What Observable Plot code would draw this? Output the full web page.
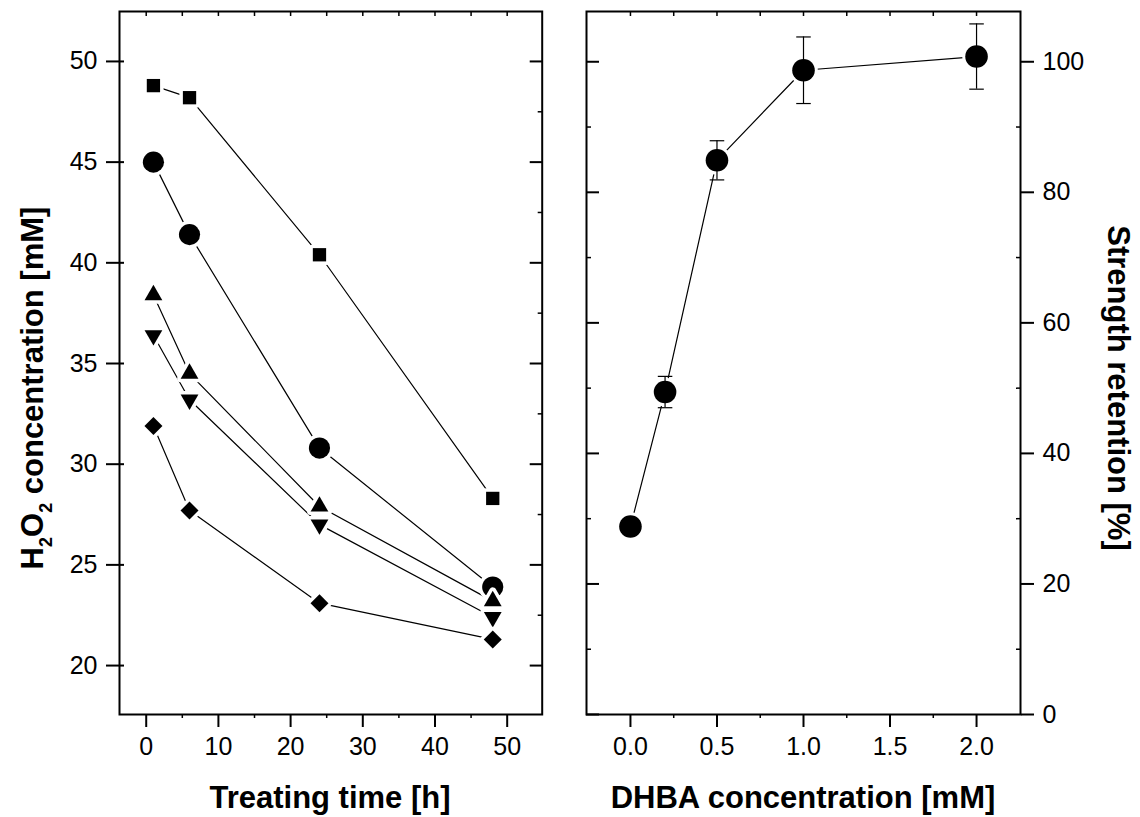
<!DOCTYPE html>
<html><head><meta charset="utf-8">
<script src="https://cdn.jsdelivr.net/npm/d3@7"></script>
<script src="https://cdn.jsdelivr.net/npm/@observablehq/plot@0.6"></script>
<style>
body{margin:0;background:#fff;}
#wrap{display:flex;width:1140px;height:817px;overflow:hidden;}
#wrap svg{display:block;flex:none;}
</style></head><body><div id="wrap"></div>
<script>
// ---- Left panel data: H2O2 concentration [mM] vs treating time [h]
const hours = [1, 6, 24, 48];
const seriesNames = ["square", "circle", "triangleUp", "triangleDown", "diamond"];
const squareVals = [48.8, 48.2, 40.4, 28.3];
const circleVals = [45.0, 41.4, 30.8, 23.9];
const triangleUpVals = [38.4, 34.5, 27.9, 23.2];
const triangleDownVals = [36.4, 33.2, 27.0, 22.4];
const diamondVals = [31.9, 27.7, 23.1, 21.3];
const timeTicks = [0, 10, 20, 30, 40, 50];
const timeMinor = [5, 15, 25, 35, 45];
const timeTop = [0, 5, 10, 15, 20, 25, 30, 35, 40, 45, 50];
const h2o2Ticks = [20, 25, 30, 35, 40, 45, 50];
const h2o2Minor = [22.5, 27.5, 32.5, 37.5, 42.5, 47.5];

// ---- Right panel data: strength retention [%] vs DHBA concentration [mM]
const dhba = [0.0, 0.2, 0.5, 1.0, 2.0];
const retention = [28.8, 49.4, 84.9, 98.7, 100.8];
const retentionErr = [0.8, 2.4, 3.0, 5.1, 5.0];
const dhbaTicks = [0, 0.5, 1.0, 1.5, 2.0];
const dhbaMinor = [0.25, 0.75, 1.25, 1.75];
const dhbaTop = [0, 0.25, 0.5, 0.75, 1.0, 1.25, 1.5, 1.75, 2.0];
const retTicks = [0, 20, 40, 60, 80, 100];
const retMinor = [10, 30, 50, 70, 90];

const FONT = "'Liberation Sans', Arial, Helvetica, sans-serif";

const triDown = {
  draw(ctx, size) {
    const y = -Math.sqrt(size / (Math.sqrt(3) * 3));
    ctx.moveTo(0, -2 * y);
    ctx.lineTo(-Math.sqrt(3) * y, y);
    ctx.lineTo(Math.sqrt(3) * y, y);
    ctx.closePath();
  }
};
const capSym = {
  draw(ctx, size) {
    const w = Math.sqrt(size) / 2;
    ctx.moveTo(-w, 0);
    ctx.lineTo(w, 0);
  }
};

const seriesVals = {square: squareVals, circle: circleVals, triangleUp: triangleUpVals, triangleDown: triangleDownVals, diamond: diamondVals};
const seriesSym = {square: "square", circle: "circle", triangleUp: "triangle", triangleDown: triDown, diamond: "diamond2"};
const seriesR = {square: 7.5, circle: 10.6, triangleUp: 6.6, triangleDown: 6.6, diamond: 8.1};

const leftRows = seriesNames.flatMap(s => hours.map((h, i) => ({series: s, t: h, c: seriesVals[s][i]})));

const leftMarks = [
  Plot.line(leftRows, {x: "t", y: "c", z: "series", stroke: "black", strokeWidth: 1.2})
];
for (const s of seriesNames) {
  const rows = leftRows.filter(d => d.series === s);
  leftMarks.push(Plot.dot(rows, {x: "t", y: "c", symbol: seriesSym[s], r: seriesR[s], fill: "white", stroke: "white", strokeWidth: 7, strokeLinejoin: "round"}));
  leftMarks.push(Plot.dot(rows, {x: "t", y: "c", symbol: seriesSym[s], r: seriesR[s], fill: "black", stroke: "none"}));
}
leftMarks.push(
  Plot.axisY({anchor: "left", ticks: h2o2Ticks, tickSize: 18, dx: 5, tickPadding: 9, fontSize: 25, strokeWidth: 2, label: null, tickFormat: d => String(d)}),
  Plot.axisY({anchor: "right", ticks: h2o2Ticks, tickSize: 13, dx: -13, fill: "none", strokeWidth: 2, label: null}),
  Plot.axisY({anchor: "right", ticks: h2o2Minor, tickSize: 5, dx: -5, fill: "none", strokeWidth: 1.5, label: null}),
  Plot.axisX({anchor: "bottom", ticks: timeTicks, tickSize: 13, tickPadding: 10, fontSize: 25, strokeWidth: 2, label: null, tickFormat: d => String(d)}),
  Plot.axisX({anchor: "bottom", ticks: timeMinor, tickSize: 4, fill: "none", strokeWidth: 1.5, label: null}),
  Plot.axisX({anchor: "top", ticks: timeTop, tickSize: 4, dy: 4, fill: "none", strokeWidth: 1.5, label: null}),
  Plot.frame({stroke: "black", strokeWidth: 2})
);

const left = Plot.plot({
  width: 570, height: 817,
  marginLeft: 119, marginRight: 28.3, marginTop: 11, marginBottom: 103,
  style: {fontFamily: FONT, background: "white", color: "black", overflow: "visible"},
  x: {domain: [-3.7, 54.85], axis: null},
  y: {domain: [17.57, 52.48], axis: null},
  marks: leftMarks
});

const rightRows = dhba.map((x, i) => ({x, y: retention[i], e: retentionErr[i]}));

const right = Plot.plot({
  width: 570, height: 817,
  marginLeft: 16, marginRight: 120, marginTop: 11, marginBottom: 103,
  style: {fontFamily: FONT, background: "white", color: "black", overflow: "visible"},
  x: {domain: [-0.254, 2.254], axis: null},
  y: {domain: [0, 107.7], axis: null},
  marks: [
    Plot.line(rightRows, {x: "x", y: "y", stroke: "black", strokeWidth: 1.2}),
    Plot.dot(rightRows, {x: "x", y: "y", r: 11.3, fill: "white", stroke: "white", strokeWidth: 6}),
    Plot.ruleX(rightRows, {x: "x", y1: d => d.y - d.e, y2: d => d.y + d.e, stroke: "black", strokeWidth: 1.2}),
    Plot.dot(rightRows, {x: "x", y: d => d.y + d.e, symbol: capSym, r: 8.2, fill: "none", stroke: "black", strokeWidth: 1.2}),
    Plot.dot(rightRows, {x: "x", y: d => d.y - d.e, symbol: capSym, r: 8.2, fill: "none", stroke: "black", strokeWidth: 1.2}),
    Plot.dot(rightRows, {x: "x", y: "y", r: 11.3, fill: "black", stroke: "none"}),
    Plot.axisY({anchor: "right", ticks: retTicks, tickSize: 13, tickPadding: 9, fontSize: 25, strokeWidth: 2, label: null, tickFormat: d => String(d)}),
    Plot.axisY({anchor: "right", ticks: retMinor, tickSize: 5, dx: -5, fill: "none", strokeWidth: 1.5, label: null}),
    Plot.axisY({anchor: "left", ticks: retTicks, tickSize: 13, dx: 13, fill: "none", strokeWidth: 2, label: null}),
    Plot.axisY({anchor: "left", ticks: retMinor, tickSize: 5, dx: 5, fill: "none", strokeWidth: 1.5, label: null}),
    Plot.axisX({anchor: "bottom", ticks: dhbaTicks, tickSize: 13, tickPadding: 10, fontSize: 25, strokeWidth: 2, label: null, tickFormat: d3.format(".1f")}),
    Plot.axisX({anchor: "bottom", ticks: dhbaMinor, tickSize: 4, fill: "none", strokeWidth: 1.5, label: null}),
    Plot.axisX({anchor: "top", ticks: dhbaTop, tickSize: 4, dy: 4, fill: "none", strokeWidth: 1.5, label: null}),
    Plot.frame({stroke: "black", strokeWidth: 2})
  ]
});

// ---- Axis titles (real text)
const titleStyle = sel => sel.attr("font-family", FONT).attr("font-weight", 700).attr("font-size", 31).attr("fill", "black").attr("text-anchor", "middle");

const ls = d3.select(left);
titleStyle(ls.append("text")).attr("x", 330).attr("y", 808).text("Treating time [h]");
const yl = titleStyle(ls.append("text")).attr("transform", "translate(43,388) rotate(-90)");
yl.append("tspan").text("H");
yl.append("tspan").attr("font-size", 18).attr("dy", 9).text("2");
yl.append("tspan").attr("dy", -9).text("O");
yl.append("tspan").attr("font-size", 18).attr("dy", 9).text("2");
yl.append("tspan").attr("dy", -9).text(" concentration [mM]");

const rs = d3.select(right);
titleStyle(rs.append("text")).attr("x", 233).attr("y", 808).text("DHBA concentration [mM]");
titleStyle(rs.append("text")).attr("transform", "translate(538,388) rotate(90)").text("Strength retention [%]");

const wrap = document.getElementById("wrap");
wrap.appendChild(left);
wrap.appendChild(right);
</script>
</body></html>
